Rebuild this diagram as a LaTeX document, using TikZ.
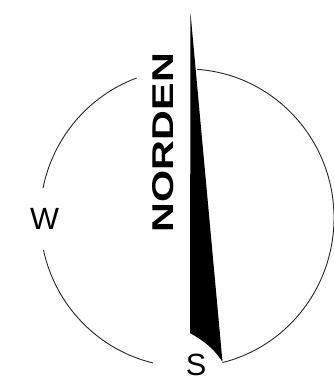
\documentclass[tikz,border=0pt]{standalone}
\usepackage{fontspec}
\setmainfont{Liberation Sans}
\begin{document}
\begin{tikzpicture}[x=1pt,y=1pt,
  ring/.style={line width=0.9pt, draw=black!85},
  needle/.style={fill=black, draw=none},
  label/.style={inner sep=0pt, font=\fontsize{30.7}{31}\selectfont}]
\useasboundingbox (0,0) rectangle (334,383);
\coordinate (c) at (187,165);
% compass ring, broken by the labels and the needle
\draw[ring] ([shift={(110:147pt and 149pt)}]c) arc[start angle=110, end angle=168.4, x radius=147pt, y radius=149pt];
\draw[ring] ([shift={(192.4:147pt and 149pt)}]c) arc[start angle=192.4, end angle=256.6, x radius=147pt, y radius=149pt];
\draw[ring] ([shift={(86:147pt and 149pt)}]c) arc[start angle=86, end angle=-76, x radius=147pt, y radius=149pt];
% needle
\coordinate (ntop) at (190.5,370);
\coordinate (ntip) at (222.5,21);
\coordinate (nheel) at (190,50);
\fill[needle] (ntop) -- (ntip) .. controls (213,36) and (202,43) .. (nheel) -- cycle;
% labels
\node[inner sep=0pt, rotate=90] (nord) at (163.5,240.5) {\resizebox{179pt}{21pt}{\bfseries NORDEN}};
\node[label] (w) at (44.5,164) {W};
\node[label] (s) at (196,18) {S};
\end{tikzpicture}
\end{document}
